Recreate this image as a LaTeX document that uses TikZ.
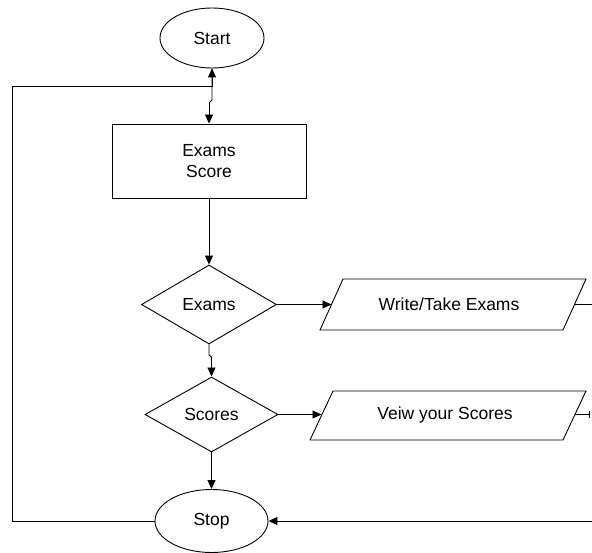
\documentclass[tikz,border=0pt]{standalone}
\usepackage{fontspec}
\setmainfont{Liberation Sans}
\usetikzlibrary{shapes.geometric,arrows.meta}
\begin{document}
\begin{tikzpicture}[x=1pt,y=-1pt,
  every node/.style={font=\fontsize{17.5}{21}\selectfont, inner sep=0pt},
  ell/.style={draw, ellipse, line width=0.9pt},
  boxn/.style={draw, rectangle, line width=0.9pt, align=center},
  dia/.style={draw, diamond, line width=0.9pt},
  shp/.style={draw, line width=0.9pt},
  conn/.style={line width=0.9pt, -{Triangle[length=9pt,width=8pt]}},
  plain/.style={line width=0.9pt}
]
\useasboundingbox (0,0) rectangle (592,553);
\begin{scope}
\clip (0,0) rectangle (592,553);
\node[ell, minimum width=104pt, minimum height=60pt] (start) at (212,38) {Start};
\node[boxn, minimum width=194pt, minimum height=74pt] (score) at (209,161) {Exams\\Score};
\node[dia, minimum width=135pt, minimum height=79pt] (exams) at (209,304.5) {Exams};
\node[dia, minimum width=133pt, minimum height=75pt] (scores) at (211.5,414.5) {Scores};
\node[ell, minimum width=113pt, minimum height=63pt] (stop) at (211.5,521) {Stop};

% parallelograms
\draw[shp] (343,279) -- (586,279) -- (563,330) -- (320,330) -- cycle;
\node (write) at (449,304) {Write/Take Exams};
\coordinate (wl) at (331.5,304.5);
\coordinate (wr) at (574.5,304.5);
\draw[shp] (333,391) -- (586,391) -- (563,440) -- (310,440) -- cycle;
\node (view) at (445,415) {Veiw your Scores};
\coordinate (vl) at (321.5,414.5);
\coordinate (vr) at (574.5,414.5);

% edge coordinates
\coordinate (e1) at (592,304.5);
\coordinate (e2) at (590,414.5);
\coordinate (e3) at (592,521);
\coordinate (loopL) at (12,86);
\coordinate (loopT) at (212,86);
\coordinate (jog1) at (212,100);
\coordinate (jog2) at (209,103);
\coordinate (jog3) at (209,355);
\coordinate (jog4) at (211.5,357);

% connectors
\draw[plain] (start.south) -- (jog1) -- (jog2);
\draw[conn] (jog2) -- (score.north);
\draw[conn] (score.south) -- (exams.north);
\draw[plain] (exams.south) -- (jog3) -- (jog4);
\draw[conn] (jog4) -- (scores.north);
\draw[conn] (scores.south) -- (stop.north);
\draw[conn] (exams.east) -- (wl);
\draw[conn] (scores.east) -- (vl);
\draw[plain] (wr) -- (e1);
\draw[plain, -{Bar[width=7pt]}] (vr) -- (e2);
\draw[conn] (e3) -- (stop.east);
\draw[conn] (stop.west) -| (loopL) -- (loopT) -- (start.south);
\end{scope}
\end{tikzpicture}
\end{document}
